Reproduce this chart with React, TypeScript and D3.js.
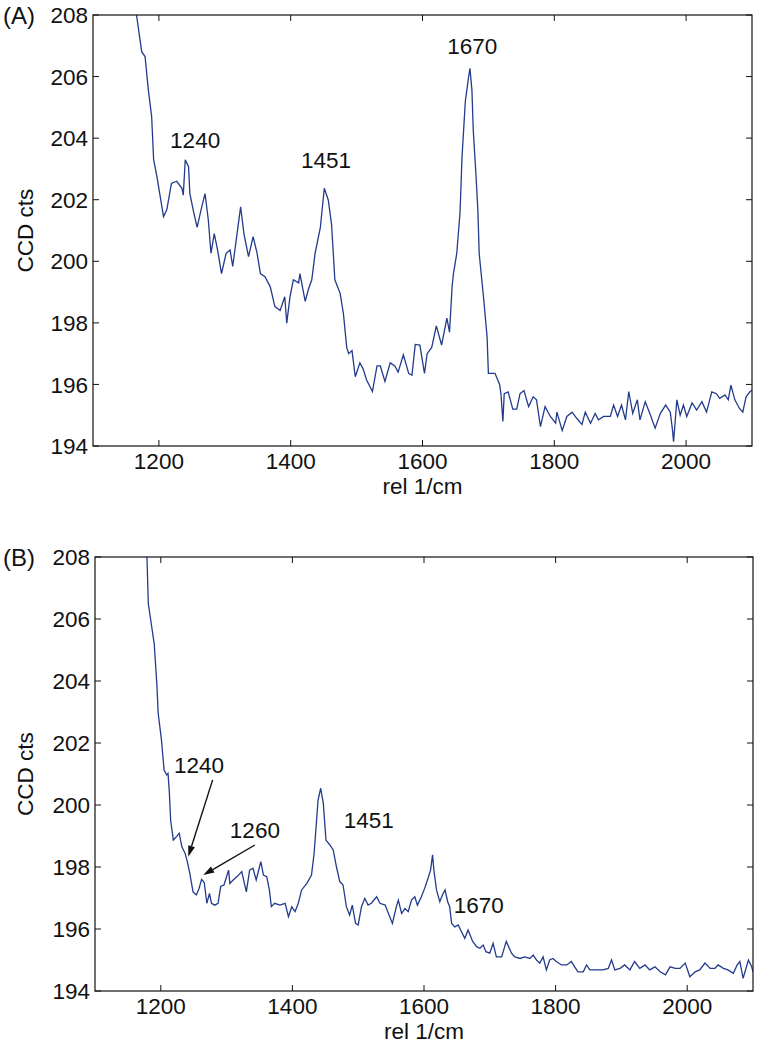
import React from "react";
import * as d3 from "d3";

// tick labels shared by both panels
const xTicks = [1200, 1400, 1600, 1800, 2000];
const yTicks = [194, 196, 198, 200, 202, 204, 206, 208];

// (A) spectrum
const wavenumbersA = [
  1160, 1166, 1174, 1179, 1184, 1189, 1192, 1197, 1202, 1207, 1212, 1219, 1227, 1235, 1237, 1240,
  1245, 1247, 1252, 1258, 1265, 1270, 1275, 1279, 1284, 1289, 1295, 1302, 1308, 1312, 1318, 1324,
  1329, 1336, 1343, 1349, 1354, 1361, 1369, 1376, 1384, 1391, 1394, 1399, 1404, 1412, 1414, 1422,
  1427, 1432, 1437, 1445, 1451, 1457, 1462, 1467, 1475, 1480, 1485, 1488, 1493, 1498, 1505, 1510,
  1515, 1524, 1531, 1536, 1543, 1551, 1558, 1563, 1571, 1579, 1584, 1589, 1596, 1603, 1607, 1614,
  1621, 1629, 1637, 1641, 1645, 1647, 1652, 1657, 1660, 1665, 1670, 1672, 1675, 1677, 1681, 1684,
  1686, 1687, 1693, 1698, 1700, 1710, 1717, 1719, 1722, 1724, 1730, 1737, 1743, 1748, 1754, 1761,
  1768, 1773, 1779, 1786, 1794, 1802, 1804, 1812, 1819, 1827, 1834, 1842, 1847, 1855, 1862, 1867,
  1875, 1885, 1890, 1896, 1902, 1908, 1913, 1919, 1926, 1930, 1938, 1946, 1953, 1961, 1969, 1976,
  1979, 1981, 1986, 1991, 1996, 2001, 2009, 2016, 2024, 2031, 2039, 2046, 2051, 2059, 2064, 2068,
  2074, 2081, 2086, 2091, 2097, 2100,
];
const countsA = [
  208.8, 208.0, 206.8, 206.65, 205.56, 204.7, 203.3, 202.75, 202.1, 201.45, 201.67, 202.53, 202.6, 202.37, 202.15, 203.3,
  203.07, 202.2, 201.67, 201.1, 201.77, 202.2, 201.34, 200.26, 200.9, 200.37, 199.6, 200.26, 200.37, 199.83, 200.8, 201.77,
  200.9, 200.15, 200.8, 200.26, 199.6, 199.5, 199.17, 198.53, 198.4, 198.85, 197.99, 198.85, 199.4, 199.3, 199.6, 198.7,
  199.1, 199.4, 200.26, 201.1, 202.37, 201.99, 201.2, 199.4, 198.96, 198.3, 197.2, 197.0, 197.1, 196.25, 196.7, 196.5,
  196.15, 195.77, 196.6, 196.6, 196.1, 196.7, 196.6, 196.4, 196.96, 196.36, 196.3, 197.3, 197.28, 196.36, 197.0, 197.2,
  197.9, 197.28, 198.15, 197.7, 199.2, 199.6, 200.26, 201.6, 203.4, 205.2, 206.0, 206.27, 205.56, 204.27, 202.86, 201.67,
  200.26, 200.04, 198.74, 197.55, 196.36, 196.36, 196.0, 195.7, 194.8, 195.7, 195.76, 195.2, 195.2, 195.7, 195.8, 195.28,
  195.6, 195.5, 194.63, 195.28, 194.96, 194.74, 195.1, 194.5, 194.96, 195.1, 194.9, 194.7, 195.1, 194.74, 195.06, 194.85,
  194.96, 194.96, 195.33, 194.96, 195.33, 194.85, 195.77, 195.06, 195.5, 194.85, 195.44, 195.0, 194.58, 195.06, 195.33, 195.1,
  194.58, 194.14, 195.5, 195.0, 195.33, 194.96, 195.4, 195.17, 195.44, 195.1, 195.76, 195.7, 195.55, 195.66, 195.5, 195.98,
  195.5, 195.22, 195.1, 195.6, 195.77, 195.8,
];

// (B) spectrum
const wavenumbersB = [
  1176, 1179, 1181, 1190, 1194, 1196, 1201, 1205, 1209, 1211, 1213, 1215, 1219, 1224, 1228, 1232,
  1237, 1240, 1244, 1249, 1254, 1258, 1262, 1266, 1270, 1274, 1277, 1282, 1287, 1291, 1296, 1303,
  1305, 1310, 1316, 1323, 1330, 1335, 1340, 1345, 1352, 1356, 1361, 1365, 1368, 1373, 1381, 1389,
  1394, 1399, 1404, 1409, 1414, 1422, 1429, 1433, 1436, 1439, 1443, 1447, 1451, 1457, 1462, 1467,
  1472, 1477, 1482, 1487, 1491, 1496, 1500, 1505, 1510, 1515, 1520, 1528, 1533, 1541, 1546, 1552,
  1558, 1561, 1566, 1571, 1576, 1581, 1586, 1590, 1596, 1601, 1606, 1610, 1613, 1615, 1619, 1624,
  1628, 1632, 1636, 1639, 1642, 1647, 1652, 1657, 1662, 1667, 1674, 1680, 1685, 1690, 1694, 1700,
  1705, 1710, 1718, 1725, 1733, 1738, 1746, 1753, 1761, 1766, 1771, 1776, 1781, 1786, 1791, 1796,
  1801, 1809, 1817, 1824, 1829, 1834, 1842, 1847, 1852, 1857, 1865, 1872, 1880, 1885, 1890, 1898,
  1905, 1913, 1920, 1928, 1936, 1943, 1951, 1959, 1967, 1974, 1982, 1989, 1997, 2004, 2012, 2019,
  2027, 2035, 2042, 2047, 2055, 2062, 2070, 2076, 2080, 2085, 2093, 2098, 2100,
];
const countsB = [
  209.0, 208.0, 206.5, 205.2, 203.9, 202.96, 202.1, 201.13, 200.97, 201.02, 200.4, 199.5, 198.87, 198.98, 199.09, 198.65,
  198.44, 198.2, 197.8, 197.2, 197.1, 197.3, 197.6, 197.5, 196.83, 197.15, 196.83, 196.77, 196.83, 197.37, 197.42, 197.9,
  197.47, 197.58, 197.69, 197.85, 197.2, 197.9, 197.96, 197.58, 198.17, 197.74, 197.69, 197.26, 196.72, 196.83, 196.77, 196.83,
  196.4, 196.72, 196.56, 196.83, 197.26, 197.47, 197.74, 198.44, 199.3, 200.16, 200.54, 200.05, 198.87, 198.71, 198.55, 198.0,
  197.53, 197.42, 196.72, 196.45, 196.77, 196.18, 196.13, 196.72, 196.99, 196.77, 196.83, 197.04, 196.83, 196.77, 196.5, 196.18,
  196.72, 196.93, 196.5, 196.66, 196.56, 196.93, 197.04, 196.77, 197.04, 197.31, 197.63, 197.9, 198.39, 197.9, 197.26, 196.88,
  197.1, 197.26, 196.88, 196.72, 196.18, 196.07, 196.13, 195.91, 195.7, 195.97, 195.6, 195.43, 195.38, 195.48, 195.27, 195.22,
  195.54, 195.1, 195.1, 195.6, 195.22, 195.1, 195.05, 195.1, 195.05, 195.16, 195.0, 194.9, 195.1, 194.68, 195.0, 195.05,
  194.95, 194.84, 194.84, 194.95, 194.78, 194.62, 194.62, 194.84, 194.68, 194.68, 194.68, 194.68, 194.73, 195.0, 194.68, 194.73,
  194.84, 194.68, 194.95, 194.73, 194.84, 194.68, 194.78, 194.62, 194.52, 194.78, 194.73, 194.73, 194.9, 194.46, 194.62, 194.68,
  194.9, 194.73, 194.73, 194.84, 194.73, 194.68, 194.57, 194.84, 194.95, 194.41, 195.0, 194.78, 194.62,
];

// peak labels, placed in data units (centre x, baseline y)
const peakTextA = ["1240", "1451", "1670"];
const peakXA = [1255, 1453.5, 1675.4];
const peakYA = [203.68, 203.03, 206.73];

const peakTextB = ["1240", "1260", "1451", "1670"];
const peakXB = [1258, 1343, 1516, 1683.3];
const peakYB = [201.03, 198.94, 199.26, 196.52];

// arrows in (B): tail -> head
const arrowFromB = [[1278.8, 200.81], [1343, 198.71]];
const arrowToB = [[1241.7, 198.33], [1264.5, 197.74]];

const font = "'Liberation Sans', Arial, sans-serif";
const lineColor = "#233b8c";

type Box = { left: number; top: number; right: number; bottom: number };

const Panel = ({ tag, box, wn, cts, texts, tx, ty, from = [], to = [] }: any) => {
  const b: Box = box;
  const x = d3.scaleLinear().domain([1100, 2100]).range([b.left, b.right]);
  const y = d3.scaleLinear().domain([194, 208]).range([b.bottom, b.top]);
  const pts = wn.map((w: number, i: number) => [w, cts[i]]);
  const line = d3.line<number[]>().x(d => x(d[0])).y(d => y(d[1]));
  const clipId = "clip" + tag.replace(/\W/g, "");
  const tk = 6;

  return (
    <g fontFamily={font} fontSize={22.5} fill="#111">
      <defs>
        <clipPath id={clipId}>
          <rect x={b.left} y={b.top} width={b.right - b.left} height={b.bottom - b.top} />
        </clipPath>
      </defs>

      <text x={3} y={b.top + 9} fontSize={24}>{tag}</text>

      <path d={line(pts) || ""} fill="none" stroke={lineColor} strokeWidth={1.3} clipPath={`url(#${clipId})`} />

      <rect x={b.left} y={b.top} width={b.right - b.left} height={b.bottom - b.top} fill="none" stroke="#111" strokeWidth={1.2} />

      {xTicks.map(t => (
        <g key={"x" + t}>
          <line x1={x(t)} x2={x(t)} y1={b.bottom} y2={b.bottom - tk} stroke="#111" />
          <line x1={x(t)} x2={x(t)} y1={b.top} y2={b.top + tk} stroke="#111" />
          <text x={x(t)} y={b.bottom + 23} textAnchor="middle">{t}</text>
        </g>
      ))}
      {yTicks.map(t => (
        <g key={"y" + t}>
          <line x1={b.left} x2={b.left + tk} y1={y(t)} y2={y(t)} stroke="#111" />
          <line x1={b.right} x2={b.right - tk} y1={y(t)} y2={y(t)} stroke="#111" />
          <text x={b.left - 5} y={y(t)} dy="0.36em" textAnchor="end">{t}</text>
        </g>
      ))}

      <text x={(b.left + b.right) / 2} y={b.bottom + 48} textAnchor="middle">rel 1/cm</text>
      <text transform={`translate(33,${(b.top + b.bottom) / 2}) rotate(-90)`} textAnchor="middle">CCD cts</text>

      {texts.map((s: string, i: number) => (
        <text key={"p" + i} x={x(tx[i])} y={y(ty[i])} textAnchor="middle">{s}</text>
      ))}

      {from.map((f: number[], i: number) => {
        const x1 = x(f[0]), y1 = y(f[1]);
        const x2 = x(to[i][0]), y2 = y(to[i][1]);
        const a = Math.atan2(y2 - y1, x2 - x1);
        const len = 11, half = 3.5;
        const bx = x2 - len * Math.cos(a), by = y2 - len * Math.sin(a);
        const head = [
          [x2, y2],
          [bx + half * Math.sin(a), by - half * Math.cos(a)],
          [bx - half * Math.sin(a), by + half * Math.cos(a)],
        ];
        return (
          <g key={"a" + i}>
            <line x1={x1} y1={y1} x2={bx} y2={by} stroke="#111" strokeWidth={1.4} />
            <polygon points={head.map(p => p.join(",")).join(" ")} fill="#111" />
          </g>
        );
      })}
    </g>
  );
};

export default function App() {
  return (
    <svg width={760} height={1044} style={{ position: "absolute", left: 0, top: 0, background: "#fff" }}>
      <rect width={760} height={1044} fill="#fff" />
      <Panel tag="(A)" box={{ left: 93, top: 15, right: 752, bottom: 446 }}
        wn={wavenumbersA} cts={countsA} texts={peakTextA} tx={peakXA} ty={peakYA} />
      <Panel tag="(B)" box={{ left: 95, top: 557, right: 753, bottom: 991 }}
        wn={wavenumbersB} cts={countsB} texts={peakTextB} tx={peakXB} ty={peakYB}
        from={arrowFromB} to={arrowToB} />
    </svg>
  );
}
